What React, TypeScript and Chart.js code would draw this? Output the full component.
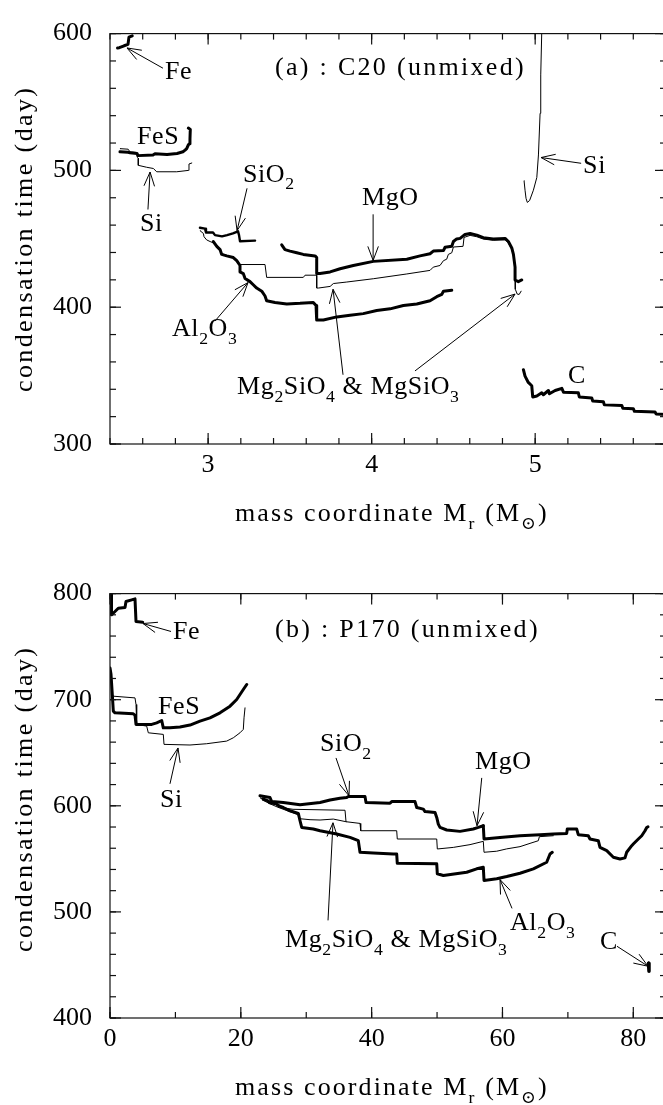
import React, { useEffect, useRef } from "react";
import { Chart, registerables } from "chart.js";

Chart.register(...registerables);

type Pt = [number, number];

const SERIF = '"Liberation Serif", "DejaVu Serif", serif';

// ---------- (a) C20, mass coordinate (Msun) vs condensation time (day) ----------
const c20Fe: Pt[] = [[2.446, 589.5], [2.457, 589.7], [2.486, 591.1], [2.51, 592.1], [2.516, 597.4], [2.536, 598.4]];
const c20FeS: Pt[] = [[2.461, 513.6], [2.51, 513.2], [2.522, 512.9], [2.565, 512.4], [2.571, 510.8], [2.663, 511.3], [2.675, 512.2], [2.749, 511.7], [2.81, 512.4], [2.846, 513.6], [2.859, 514.8], [2.869, 515.9], [2.879, 518.7], [2.885, 519.4], [2.889, 522.9], [2.891, 530], [2.879, 531]];
const c20SiInner: Pt[] = [[2.461, 515.9], [2.511, 515.5], [2.522, 513.6], [2.563, 513.1], [2.567, 509.6], [2.573, 508.9], [2.573, 503.7], [2.624, 502.3], [2.665, 501.4], [2.686, 499], [2.808, 499], [2.879, 500], [2.883, 504.7], [2.9, 505.4]];
const c20SiO2: Pt[] = [[2.95, 458.1], [2.981, 457.4], [2.987, 454.6], [3.03, 454.6], [3.042, 452.7], [3.085, 451.8], [3.116, 452.7], [3.152, 453.9], [3.183, 455.5], [3.189, 452.7], [3.195, 448.2], [3.287, 448.7]];
const c20Al2O3: Pt[] = [[3.032, 448], [3.053, 444.5], [3.073, 442.1], [3.083, 438.6], [3.114, 437.5], [3.154, 436.3], [3.175, 434], [3.195, 430.5], [3.195, 425.8], [3.215, 424.6], [3.226, 421], [3.256, 418.7], [3.276, 416.4], [3.297, 414], [3.328, 411.7], [3.348, 408.2], [3.358, 404.7], [3.409, 403.5], [3.481, 402.4], [3.562, 402.8], [3.643, 403.5], [3.66, 401.2], [3.664, 390.6], [3.705, 390.6], [3.787, 392.9], [3.868, 394.1], [3.949, 395.3], [4.031, 397.6], [4.113, 398.8], [4.194, 401.2], [4.276, 402.4], [4.357, 404.7], [4.398, 407.7], [4.429, 409.4], [4.439, 411.7], [4.49, 412.4]];
const c20Mg2SiO4: Pt[] = [[2.95, 456], [2.971, 453.9], [2.975, 451.5], [2.991, 449.2], [3.012, 448], [3.036, 446.8], [3.054, 444.7], [3.073, 441.9], [3.085, 439.1], [3.116, 437.7], [3.152, 436.3], [3.175, 434.4], [3.195, 431.2], [3.348, 431.2], [3.358, 421.8], [3.582, 421.8], [3.593, 423.4], [3.664, 423.4], [3.664, 414], [3.674, 414], [3.746, 415.2], [3.766, 417.3], [3.848, 418.4], [4.01, 420.8], [4.215, 424.3], [4.357, 426.9], [4.377, 429.3], [4.418, 430.5], [4.439, 434], [4.459, 435.1], [4.469, 438.6], [4.49, 439.8], [4.5, 444], [4.559, 444.5], [4.565, 451], [4.602, 452.5], [4.643, 451.5], [4.683, 449.8], [4.744, 448.9], [4.816, 449.3], [4.836, 447], [4.857, 442.3], [4.867, 437.6], [4.877, 428.3], [4.877, 419], [4.88, 413.1], [4.89, 409.6], [4.902, 409.3], [4.914, 411.7]];
const c20MgO: Pt[] = [[3.45, 445.6], [3.47, 442.1], [3.501, 441], [3.542, 439.8], [3.582, 438.6], [3.654, 437.5], [3.664, 436.3], [3.664, 424.6], [3.684, 424.6], [3.746, 425.8], [3.807, 428.1], [3.888, 430.5], [4.01, 433.5], [4.215, 435.1], [4.296, 437.5], [4.357, 439.1], [4.377, 441], [4.439, 441.4], [4.449, 443.8], [4.49, 444.5], [4.5, 448], [4.52, 449.9], [4.541, 450.3], [4.571, 453.2], [4.602, 453.9], [4.643, 452.7], [4.683, 450.8], [4.744, 449.9], [4.816, 450.3], [4.836, 448], [4.857, 443.3], [4.867, 438.6], [4.877, 429.3], [4.877, 419.9], [4.897, 418.7], [4.918, 419.9]];
const c20SiOuter: Pt[] = [[4.932, 492.5], [4.938, 485.5], [4.944, 479.6], [4.952, 476.6], [4.966, 478], [4.989, 485.5], [5.01, 494.8], [5.02, 511.3], [5.03, 541.7], [5.034, 569.8], [5.04, 600], [5.042, 608]];
const c20C: Pt[] = [[4.928, 354.3], [4.938, 349.6], [4.958, 345], [4.979, 342.6], [4.985, 334.4], [5.01, 335.1], [5.04, 337.4], [5.05, 336], [5.081, 339.1], [5.087, 336.7], [5.122, 339.1], [5.163, 340.7], [5.173, 337.9], [5.264, 337.4], [5.27, 334.4], [5.346, 333.7], [5.352, 331.4], [5.417, 330.9], [5.423, 328.6], [5.53, 328.1], [5.536, 326.2], [5.6, 325.8], [5.607, 323.9], [5.733, 323.4], [5.739, 322], [5.8, 321.6]];

const c20TicksX = [3, 4, 5];
const c20TicksY = [300, 400, 500, 600];

// ---------- (b) P170 ----------
const p170Fe: Pt[] = [[0.153, 800], [0.2, 792.5], [0.26, 780], [0.764, 783.1], [1.269, 786.2], [2.293, 786.9], [2.446, 792.5], [3.318, 794.1], [3.822, 795], [3.975, 773.7], [4.999, 773.1]];
const p170FeS: Pt[] = [[0, 729.9], [0.153, 723.9], [0.352, 704.9], [0.505, 689.2], [0.764, 687.6], [3.562, 686.7], [3.822, 685.4], [3.975, 676.7], [6.375, 676.7], [7.14, 678.2], [7.904, 680.4], [8.149, 673.5], [9.173, 673.5], [10.7, 674.2], [12.23, 676.1], [13.76, 679.8], [15.29, 682.9], [16.82, 687.6], [18.35, 693.9], [19.37, 700.2], [20.38, 709.6], [20.9, 714.3]];
const p170Si: Pt[] = [[0, 729.9], [0.153, 723.9], [0.352, 704.9], [0.505, 703.3], [3.822, 701.7], [3.975, 695.5], [4.082, 676.7], [5.611, 675.1], [5.856, 668.8], [8.149, 667.3], [8.256, 657.9], [12.23, 657.3], [14.78, 658.5], [17.84, 661], [18.85, 664.1], [19.87, 668.8], [20.38, 672], [20.49, 682.9], [20.64, 692.3]];
const p170SiO2: Pt[] = [[22.93, 609.4], [24.46, 607.8], [24.72, 604], [26.49, 603.1], [29.05, 600.9], [30.07, 601.6], [32.11, 603.1], [33.64, 605.4], [35.16, 607.2], [36.19, 607.8], [36.43, 608.7], [38.98, 608.7], [39.14, 603.1], [42.81, 602.5], [43.07, 604], [46.63, 604], [46.89, 598.4], [47.9, 596.9], [48.16, 594.6], [49.69, 593.7], [49.95, 589], [50.19, 582.8], [50.45, 579.6], [51.48, 577.2], [53.51, 575.9], [55.54, 578.1], [56.31, 579.6], [57.07, 581.2]];
const p170MgO: Pt[] = [[57.07, 581.2], [57.18, 568.7], [59.62, 570.2], [62.68, 571.8], [65.74, 572.8], [67.77, 573.4], [69.82, 574], [69.91, 578.1], [71.35, 578.1], [71.59, 572.8], [73.12, 571.8], [73.38, 568.7], [74.65, 567.1], [74.91, 560.8], [75.94, 557.7], [76.95, 551.5], [77.97, 549.9], [78.73, 550.9], [78.99, 556.2], [79.76, 562.4], [80, 564], [80.77, 568.7], [81.29, 571.8], [81.79, 576.5], [82.05, 579.6], [82.25, 580.3]];
const p170Al2O3: Pt[] = [[23.39, 606.6], [24.16, 604.7], [24.46, 602.8], [25.38, 601.9], [25.84, 600], [26.49, 598.4], [27.52, 595.3], [28.79, 592.8], [29.05, 585.9], [29.31, 579.6], [31.08, 578.1], [32.11, 576.5], [34.66, 573.4], [36.69, 570.2], [37.96, 567.1], [38.22, 556.2], [40.25, 555.6], [43.31, 554.6], [43.83, 554.6], [43.92, 545.8], [49.95, 545.3], [50.04, 535.9], [50.96, 534.3], [54.53, 537.4], [56.06, 540.6], [57.07, 542.1], [57.18, 529.6], [59.12, 531.2], [60.65, 533.3], [62.68, 536.4], [64.72, 540.6], [66.76, 546.8], [67.27, 554.6], [67.62, 556.2]];
const p170Mg2SiO4: Pt[] = [[22.93, 607.5], [23.85, 605.6], [24.16, 602.8], [25.38, 601.4], [25.68, 599.1], [26.91, 597.7], [27.98, 596.7], [35.93, 595.8], [36.08, 585], [38.22, 583.4], [38.33, 576.5], [43.83, 576.5], [43.92, 568.7], [49.95, 568.7], [50.04, 559.3], [52.48, 560.8], [55.04, 563.4], [57.07, 566.5], [57.18, 556.2], [59.12, 557.2], [60.65, 559.4], [62.68, 561.5], [64.21, 564.6], [65.48, 567.1], [65.64, 570.9], [67.77, 571.8]];
const p170MgSiO3: Pt[] = [[23.24, 605.6], [24.46, 601.9], [25.68, 598.6], [27.52, 594.4], [28.74, 591.5], [29.05, 587.8], [30.58, 586.9], [32.11, 586.6], [34.14, 587.5], [36.08, 585]];
const p170C: Pt[] = [[82.33, 451.6], [82.4, 444.1]];

const p170TicksX = [0, 20, 40, 60, 80];
const p170TicksY = [400, 500, 600, 700, 800];

type Series = { pts: Pt[]; width: number };
type Note = { text: string; at: Pt; arrows?: [Pt, Pt][]; spacing?: number };

interface PanelSpec {
  xMin: number; xMax: number; yMin: number; yMax: number;
  ticksX: number[]; ticksY: number[];
  minorX: { from: number; to: number; step: number };
  minorY: { from: number; to: number; step: number };
  series: Series[];
  notes: Note[];
  canvasHeight: number; padTop: number; xAxisHeight: number;
  yTitleShift: number;
}

const panelA: PanelSpec = {
  xMin: 2.4, xMax: 5.8, yMin: 300, yMax: 600,
  ticksX: c20TicksX, ticksY: c20TicksY,
  minorX: { from: 2.4, to: 5.8, step: 0.2 },
  minorY: { from: 300, to: 600, step: 20 },
  series: [
    { pts: c20SiInner, width: 1 }, { pts: c20Mg2SiO4, width: 1 }, { pts: c20SiOuter, width: 1 },
    { pts: c20Fe, width: 3 }, { pts: c20FeS, width: 3 }, { pts: c20SiO2, width: 2.4 },
    { pts: c20Al2O3, width: 3 }, { pts: c20MgO, width: 3 }, { pts: c20C, width: 3 },
  ],
  notes: [
    { text: "(a) : C20 (unmixed)", at: [3.409, 569.8], spacing: 2.3 },
    { text: "Fe", at: [2.736, 567.0], arrows: [[[2.724, 574.7], [2.504, 589.5]]] },
    { text: "FeS", at: [2.565, 519.2] },
    { text: "Si", at: [2.583, 456.0], arrows: [[[2.632, 471.4], [2.645, 498.8]]] },
    { text: "SiO_{2}", at: [3.213, 491.8], arrows: [[[3.238, 486.9], [3.177, 456.0]]] },
    { text: "MgO", at: [3.941, 474.9], arrows: [[[4.009, 467.9], [4.009, 434.2]]] },
    { text: "Al_{2}O_{3}", at: [2.779, 378.7], arrows: [[[3.042, 389.9], [3.244, 418.0]]] },
    { text: "Mg_{2}SiO_{4} & MgSiO_{3}", at: [3.177, 336.5], arrows: [[[3.825, 350.6], [3.764, 413.1]], [[4.265, 353.4], [4.877, 409.6]]] },
    { text: "C", at: [5.201, 344.3] },
    { text: "Si", at: [5.293, 498.1], arrows: [[[5.281, 505.2], [5.036, 509.4]]] },
  ],
  canvasHeight: 550, padTop: 17, xAxisHeight: 106, yTitleShift: 0,
};

const panelB: PanelSpec = {
  xMin: 0, xMax: 85, yMin: 400, yMax: 800,
  ticksX: p170TicksX, ticksY: p170TicksY,
  minorX: { from: 0, to: 80, step: 10 },
  minorY: { from: 400, to: 800, step: 20 },
  series: [
    { pts: p170Si, width: 1 }, { pts: p170Mg2SiO4, width: 1 }, { pts: p170MgSiO3, width: 1 },
    { pts: p170Fe, width: 3 }, { pts: p170FeS, width: 3 }, { pts: p170SiO2, width: 3 },
    { pts: p170MgO, width: 3 }, { pts: p170Al2O3, width: 3 }, { pts: p170C, width: 3.5 },
  ],
  notes: [
    { text: "(b) : P170 (unmixed)", at: [25.23, 758.7], spacing: 2.3 },
    { text: "Fe", at: [9.63, 756.8], arrows: [[[9.33, 764.3], [5.05, 771.8]]] },
    { text: "FeS", at: [7.34, 686.4] },
    { text: "Si", at: [7.64, 599.1], arrows: [[[9.17, 620.7], [10.4, 654.5]]] },
    { text: "SiO_{2}", at: [32.11, 651.6], arrows: [[[34.55, 645.1], [36.54, 609.4]]] },
    { text: "MgO", at: [55.8, 634.7], arrows: [[[56.83, 626.3], [56.11, 581.2]]] },
    { text: "Mg_{2}SiO_{4} & MgSiO_{3}", at: [26.75, 466.7], arrows: [[[33.33, 492.0], [34.09, 584.0]]] },
    { text: "Al_{2}O_{3}", at: [61.15, 482.6], arrows: [[[61.46, 503.3], [59.62, 530.5]]] },
    { text: "C", at: [74.91, 464.8], arrows: [[[77.51, 467.6], [82.25, 448.8]]] },
  ],
  canvasHeight: 545, padTop: 32, xAxisHeight: 87, yTitleShift: -7,
};

const Y_TITLE = "condensation time (day)";
const X_TITLE = "mass coordinate M_{r} (M_{\u2299})";

function parseRich(s: string) {
  const out: { t: string; sub: boolean }[] = [];
  const re = /_\{([^}]*)\}/g;
  let last = 0;
  let m: RegExpExecArray | null;
  while ((m = re.exec(s))) {
    if (m.index > last) out.push({ t: s.slice(last, m.index), sub: false });
    out.push({ t: m[1], sub: true });
    last = re.lastIndex;
  }
  if (last < s.length) out.push({ t: s.slice(last), sub: false });
  return out;
}

function drawRich(ctx: CanvasRenderingContext2D, s: string, x: number, y: number, size: number, spacing: number, measureOnly = false) {
  let cx = x;
  for (const p of parseRich(s)) {
    const fs = p.sub ? size * 0.68 : size;
    ctx.font = `${fs}px ${SERIF}`;
    (ctx as any).letterSpacing = `${spacing}px`;
    if (!measureOnly) ctx.fillText(p.t, cx, y + (p.sub ? size * 0.3 : 0));
    cx += ctx.measureText(p.t).width;
  }
  return cx - x;
}

function arrow(ctx: CanvasRenderingContext2D, x1: number, y1: number, x2: number, y2: number) {
  const ang = Math.atan2(y2 - y1, x2 - x1);
  const L = 15;
  const h = 0.36;
  ctx.beginPath();
  ctx.moveTo(x1, y1);
  ctx.lineTo(x2, y2);
  ctx.moveTo(x2 - L * Math.cos(ang - h), y2 - L * Math.sin(ang - h));
  ctx.lineTo(x2, y2);
  ctx.lineTo(x2 - L * Math.cos(ang + h), y2 - L * Math.sin(ang + h));
  ctx.stroke();
}

function decorPlugin(spec: PanelSpec) {
  return {
    id: "panelDecor",
    afterDatasetsDraw(chart: any) {
      const { ctx, chartArea: a, scales } = chart;
      const xs = scales.x;
      const ys = scales.y;
      const px = (v: number) => xs.getPixelForValue(v);
      const py = (v: number) => ys.getPixelForValue(v);
      ctx.save();
      ctx.strokeStyle = "#111";
      ctx.lineWidth = 1.2;
      ctx.strokeRect(a.left, a.top, a.right - a.left, a.bottom - a.top);
      const seg = (x1: number, y1: number, x2: number, y2: number) => {
        ctx.beginPath();
        ctx.moveTo(x1, y1);
        ctx.lineTo(x2, y2);
        ctx.stroke();
      };
      const MINOR = 6;
      const MAJOR = 11;
      const nX = Math.round((spec.minorX.to - spec.minorX.from) / spec.minorX.step);
      for (let i = 0; i <= nX; i++) {
        const x = px(spec.minorX.from + i * spec.minorX.step);
        seg(x, a.bottom, x, a.bottom - MINOR);
        seg(x, a.top, x, a.top + MINOR);
      }
      const nY = Math.round((spec.minorY.to - spec.minorY.from) / spec.minorY.step);
      for (let i = 0; i <= nY; i++) {
        const y = py(spec.minorY.from + i * spec.minorY.step);
        seg(a.left, y, a.left + MINOR, y);
        seg(a.right, y, a.right - MINOR, y);
      }
      for (const v of spec.ticksX) {
        const x = px(v);
        seg(x, a.bottom, x, a.bottom - MAJOR);
        seg(x, a.top, x, a.top + MAJOR);
      }
      for (const v of spec.ticksY) {
        const y = py(v);
        seg(a.left, y, a.left + MAJOR, y);
        seg(a.right, y, a.right - MAJOR, y);
      }

      // labels and pointer arrows
      ctx.fillStyle = "#000";
      ctx.strokeStyle = "#000";
      ctx.lineWidth = 1;
      ctx.textBaseline = "alphabetic";
      ctx.textAlign = "left";
      for (const n of spec.notes) {
        drawRich(ctx, n.text, px(n.at[0]), py(n.at[1]), 26, n.spacing ?? 0.6);
        for (const [t, h] of n.arrows ?? []) arrow(ctx, px(t[0]), py(t[1]), px(h[0]), py(h[1]));
      }

      // axis titles
      drawRich(ctx, X_TITLE, 235, a.bottom + 77, 26, 2.1);
      ctx.save();
      ctx.translate(32, (a.top + a.bottom) / 2 + spec.yTitleShift);
      ctx.rotate(-Math.PI / 2);
      const w = drawRich(ctx, Y_TITLE, 0, 0, 26, 2.4, true);
      drawRich(ctx, Y_TITLE, -w / 2, 0, 26, 2.4);
      ctx.restore();
      (ctx as any).letterSpacing = "0px";
      ctx.restore();
    },
  };
}

function buildConfig(spec: PanelSpec): any {
  const tickFont = { family: SERIF, size: 26 };
  return {
    type: "scatter",
    data: {
      datasets: spec.series.map((s) => ({
        data: s.pts.map(([x, y]) => ({ x, y })),
        showLine: true,
        borderColor: "#000",
        backgroundColor: "#000",
        borderWidth: s.width,
        pointRadius: 0,
        pointHoverRadius: 0,
        tension: 0,
        fill: false,
        borderJoinStyle: "round",
        borderCapStyle: "round",
      })),
    },
    options: {
      responsive: false,
      animation: false,
      devicePixelRatio: 1,
      events: [],
      layout: { padding: { top: spec.padTop, right: 4, left: 0, bottom: 0 } },
      plugins: { legend: { display: false }, tooltip: { enabled: false }, title: { display: false } },
      scales: {
        x: {
          type: "linear",
          min: spec.xMin,
          max: spec.xMax,
          afterBuildTicks: (sc: any) => { sc.ticks = spec.ticksX.map((v) => ({ value: v })); },
          afterFit: (sc: any) => { sc.height = spec.xAxisHeight; },
          grid: { display: false, drawTicks: false, tickLength: 0 },
          border: { display: false },
          ticks: { font: tickFont, color: "#000", padding: 6, maxRotation: 0, autoSkip: false, callback: (v: number) => String(v) },
        },
        y: {
          type: "linear",
          min: spec.yMin,
          max: spec.yMax,
          afterBuildTicks: (sc: any) => { sc.ticks = spec.ticksY.map((v) => ({ value: v })); },
          afterFit: (sc: any) => { sc.width = 110; },
          grid: { display: false, drawTicks: false, tickLength: 0 },
          border: { display: false },
          ticks: { font: tickFont, color: "#000", padding: 18, autoSkip: false, callback: (v: number) => String(v) },
        },
      },
    },
    plugins: [decorPlugin(spec)],
  };
}

function Panel({ spec, top }: { spec: PanelSpec; top: number }) {
  const ref = useRef<HTMLCanvasElement>(null);
  useEffect(() => {
    const chart = new Chart(ref.current as HTMLCanvasElement, buildConfig(spec));
    return () => chart.destroy();
  }, [spec]);
  return (
    <canvas
      ref={ref}
      width={670}
      height={spec.canvasHeight}
      style={{ position: "absolute", left: 0, top, display: "block", width: 670, height: spec.canvasHeight }}
    />
  );
}

export default function App() {
  return (
    <div style={{ position: "fixed", left: 0, top: 0, width: 663, height: 1105, overflow: "hidden", background: "#fff" }}>
      <Panel spec={panelA} top={0} />
      <Panel spec={panelB} top={560} />
    </div>
  );
}
